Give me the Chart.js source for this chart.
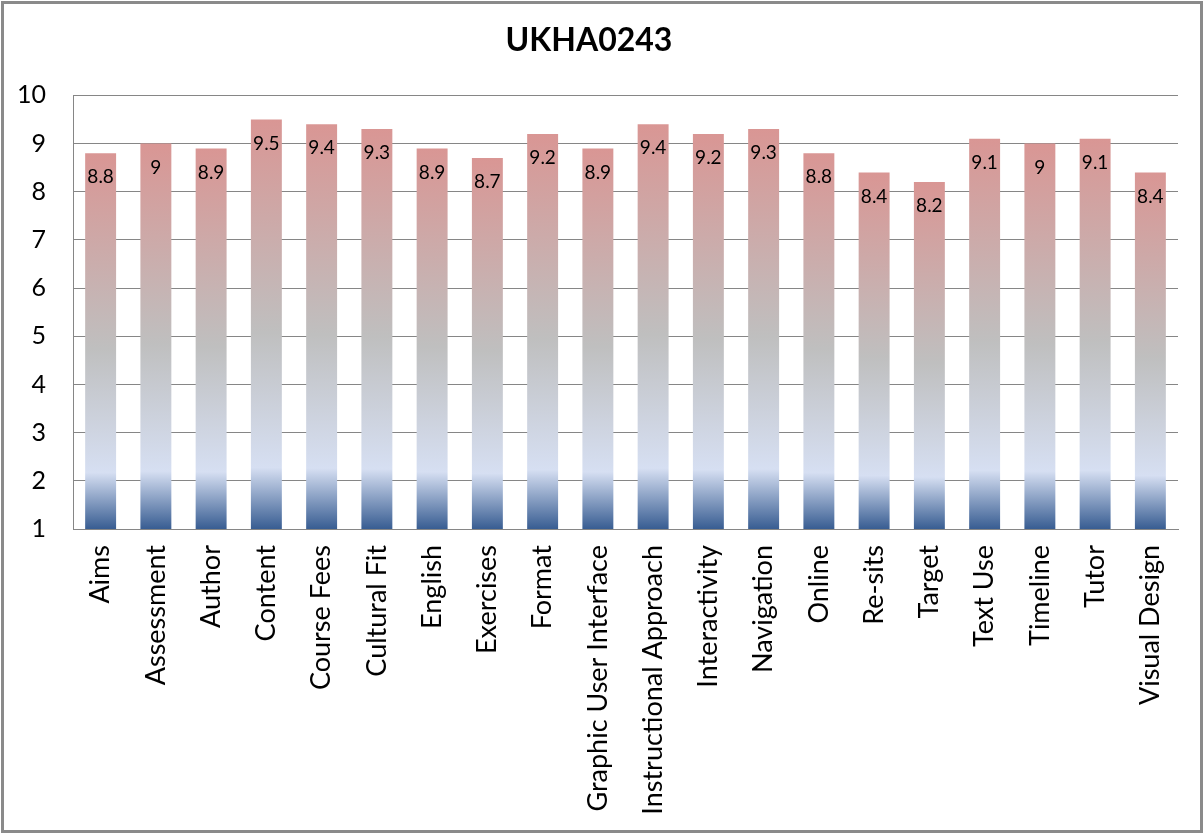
<!DOCTYPE html>
<html>
<head>
<meta charset="utf-8">
<script src="https://cdn.jsdelivr.net/npm/chart.js@4"></script>
<style>
    html, body { margin: 0; padding: 0; background: #fff; }
    #wrap { width: 1204px; height: 834px; position: relative; }
</style>
</head>
<body>
<div id="wrap"><canvas id="scoreChart" width="1204" height="834"></canvas></div>
<script>
// --- Data ---
const CHART_TITLE = 'UKHA0243';
const categories = [
    'Aims', 'Assessment', 'Author', 'Content', 'Course Fees', 'Cultural Fit',
    'English', 'Exercises', 'Format', 'Graphic User Interface',
    'Instructional Approach', 'Interactivity', 'Navigation', 'Online',
    'Re-sits', 'Target', 'Text Use', 'Timeline', 'Tutor', 'Visual Design'
];
const scores = [8.8, 9, 8.9, 9.5, 9.4, 9.3, 8.9, 8.7, 9.2, 8.9, 9.4, 9.2, 9.3, 8.8, 8.4, 8.2, 9.1, 9, 9.1, 8.4];
const yTicks = [1, 2, 3, 4, 5, 6, 7, 8, 9, 10];

const FONT = 'Lato, "Open Sans", sans-serif';
const GRID = '#868686';

// Each bar gets its own vertical gradient, like the Excel fill
function barGradient(context) {
    const chart = context.chart;
    const { ctx, chartArea, scales } = chart;
    if (!chartArea) return '#bfbfbf';
    const value = scores[context.dataIndex];
    const top = scales.y.getPixelForValue(value);
    const bottom = scales.y.getPixelForValue(yTicks[0]);
    const g = ctx.createLinearGradient(0, bottom, 0, top);
    g.addColorStop(0, '#385d92');
    g.addColorStop(0.15, '#d6dff2');
    g.addColorStop(0.48, '#bfbfbf');
    g.addColorStop(1, '#d99694');
    return g;
}

// Background + outer frame
const framePlugin = {
    id: 'frame',
    beforeDraw(chart) {
        const ctx = chart.ctx;
        ctx.save();
        ctx.fillStyle = '#fff';
        ctx.fillRect(0, 0, chart.width, chart.height);
        ctx.strokeStyle = '#8a8a8a';
        ctx.lineWidth = 3;
        ctx.strokeRect(2.5, 2.5, chart.width - 5, chart.height - 5);
        ctx.restore();
    }
};

// Value labels inside the top of each bar
const valueLabels = {
    id: 'valueLabels',
    afterDatasetsDraw(chart) {
        const ctx = chart.ctx;
        const meta = chart.getDatasetMeta(0);
        ctx.save();
        ctx.font = '19px ' + FONT;
        ctx.fillStyle = '#000';
        ctx.textAlign = 'center';
        ctx.textBaseline = 'middle';
        meta.data.forEach((bar, i) => {
            ctx.fillText(String(scores[i]), bar.x, bar.y + 24);
        });
        ctx.restore();
    }
};

new Chart(document.getElementById('scoreChart'), {
    type: 'bar',
    data: {
        labels: categories,
        datasets: [{
            data: scores,
            backgroundColor: barGradient,
            borderWidth: 0,
            categoryPercentage: 1,
            barPercentage: 0.56
        }]
    },
    options: {
        responsive: false,
        animation: false,
        layout: { padding: { left: 0, right: 26, top: 0, bottom: 0 } },
        plugins: {
            legend: { display: false },
            tooltip: { enabled: false },
            title: {
                display: true,
                text: CHART_TITLE,
                color: '#000',
                font: { family: FONT, size: 32, weight: 'bold' },
                padding: { top: 21, bottom: 36 }
            }
        },
        scales: {
            y: {
                min: 1,
                max: 10,
                afterBuildTicks(scale) {
                    scale.ticks = yTicks.map(v => ({ value: v }));
                },
                afterFit(scale) { scale.width = 73; },
                grid: { color: GRID, lineWidth: 1, drawTicks: false },
                border: { display: true, color: GRID, width: 1 },
                ticks: {
                    color: '#000',
                    padding: 27,
                    font: { family: FONT, size: 25 }
                }
            },
            x: {
                afterFit(scale) { scale.height = 834 - 529; },
                grid: { display: false, drawTicks: false },
                border: { display: true, color: GRID, width: 1 },
                ticks: {
                    color: '#000',
                    autoSkip: false,
                    minRotation: 90,
                    maxRotation: 90,
                    padding: 16,
                    font: { family: FONT, size: 27 }
                }
            }
        }
    },
    plugins: [framePlugin, valueLabels]
});
</script>
</body>
</html>
